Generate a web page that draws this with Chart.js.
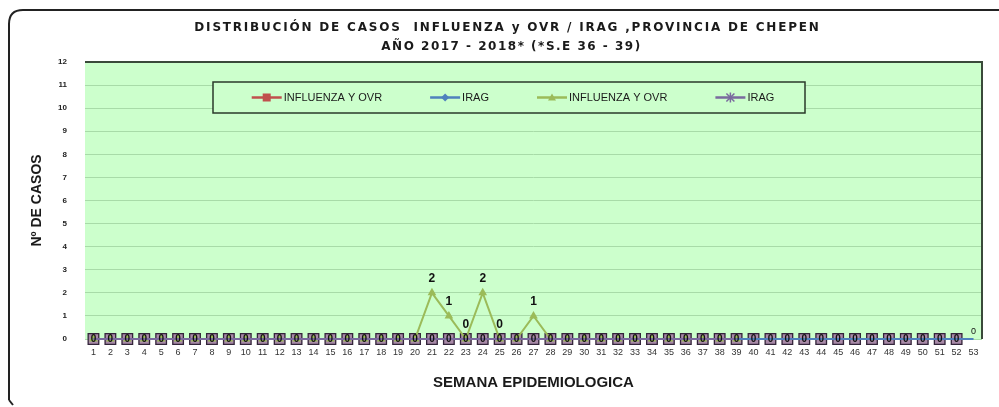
<!DOCTYPE html>
<html><head><meta charset="utf-8">
<script src="https://cdn.jsdelivr.net/npm/chart.js@4.4.0/dist/chart.umd.min.js"></script>
<style>html,body{margin:0;padding:0;background:#fff;}#wrap{width:999px;height:407px;position:relative;}</style>
</head><body><div id="wrap"><canvas id="c" width="999" height="407"></canvas></div>
<script>
const weeks = ['1','2','3','4','5','6','7','8','9','10','11','12','13','14','15','16','17','18','19','20',
  '21','22','23','24','25','26','27','28','29','30','31','32','33','34','35','36','37','38','39','40',
  '41','42','43','44','45','46','47','48','49','50','51','52','53'];
// 2017 INFLUENZA Y OVR (weeks 1-52)
const influenza2017 = [0,0,0,0,0,0,0,0,0,0,0,0,0,0,0,0,0,0,0,0,0,0,0,0,0,0,
  0,0,0,0,0,0,0,0,0,0,0,0,0,0,0,0,0,0,0,0,0,0,0,0,0,0];
// 2017 IRAG (weeks 1-53)
const irag2017 = [0,0,0,0,0,0,0,0,0,0,0,0,0,0,0,0,0,0,0,0,0,0,0,0,0,0,
  0,0,0,0,0,0,0,0,0,0,0,0,0,0,0,0,0,0,0,0,0,0,0,0,0,0,0];
// 2018* INFLUENZA Y OVR (weeks 1-39)
const influenza2018 = [0,0,0,0,0,0,0,0,0,0,0,0,0,0,0,0,0,0,0,0,
  2,1,0,2,0,0,1,0,0,0,0,0,0,0,0,0,0,0,0];
// 2018* IRAG (weeks 1-39)
const irag2018 = [0,0,0,0,0,0,0,0,0,0,0,0,0,0,0,0,0,0,0,0,
  0,0,0,0,0,0,0,0,0,0,0,0,0,0,0,0,0,0,0];
const seriesNames = ['INFLUENZA Y OVR','IRAG','INFLUENZA Y OVR','IRAG'];
const yTicks = [0,1,2,3,4,5,6,7,8,9,10,11,12];
const influenza2018LabelWeeks = ['21','22','23','24','25','27'];
const irag2017LabelWeeks = ['53'];

const titleLines = ['DISTRIBUCIÓN DE CASOS  INFLUENZA y OVR / IRAG ,PROVINCIA DE CHEPEN',
                    'AÑO 2017 - 2018* (*S.E 36 - 39)'];

const allWeekLabels = weeks.slice(0, influenza2017.length);

const framePlugin = {
  id:'frame',
  beforeDraw(chart){
    const {ctx, chartArea:a} = chart;
    ctx.save();
    ctx.fillStyle='#fff'; ctx.fillRect(0,0,chart.width,chart.height);
    ctx.strokeStyle='#222'; ctx.lineWidth=2;
    ctx.beginPath();
    ctx.moveTo(9,400); ctx.lineTo(9,24);
    ctx.quadraticCurveTo(9,10,23,10);
    ctx.lineTo(1005,10);
    ctx.stroke();
    ctx.beginPath(); ctx.moveTo(9,400); ctx.lineTo(13,405); ctx.stroke();
    ctx.fillStyle='#ccffcc';
    ctx.fillRect(a.left,a.top,a.right-a.left,a.bottom-a.top);
    // title
    ctx.fillStyle='#1a1a1a';
    ctx.font='bold 12px "DejaVu Sans", sans-serif';
    ctx.textAlign='center'; ctx.textBaseline='middle';
    ctx.letterSpacing='1.8px';
    const cx = (a.left+a.right)/2 - 26;
    ctx.fillText(titleLines[0], cx, 28);
    ctx.letterSpacing='1.5px';
    ctx.fillText(titleLines[1], cx + 4, 47);
    ctx.letterSpacing='0px';
    ctx.restore();
  },
  afterDatasetsDraw(chart){
    const {ctx, chartArea:a} = chart;
    ctx.save();
    // plot border top & right
    ctx.strokeStyle='#3a4a3a'; ctx.lineWidth=2;
    ctx.beginPath(); ctx.moveTo(a.left,a.top); ctx.lineTo(a.right,a.top); ctx.lineTo(a.right,a.bottom); ctx.stroke();
    // legend box
    const bx=213, by=82, bw=592, bh=31;
    ctx.fillStyle='#ccffcc'; ctx.fillRect(bx,by,bw,bh);
    ctx.strokeStyle='#2a3a2a'; ctx.lineWidth=1.5; ctx.strokeRect(bx,by,bw,bh);
    ctx.font='11px "Liberation Sans", Arial, sans-serif';
    ctx.textBaseline='middle'; ctx.textAlign='left';
    const lineLen=30, gap=2, spacing=48;
    const items = chart.data.datasets.map(d=>({d, w: ctx.measureText(d.label).width}));
    let total = items.reduce((s,it)=>s+lineLen+gap+it.w,0)+spacing*(items.length-1);
    let x = bx + bw/2 - total/2 + 4;
    const cy = by+bh/2;
    items.forEach(it=>{
      const d=it.d;
      ctx.strokeStyle=d.borderColor; ctx.lineWidth=2.5;
      ctx.beginPath(); ctx.moveTo(x,cy); ctx.lineTo(x+lineLen,cy); ctx.stroke();
      const mx=x+lineLen/2;
      ctx.fillStyle=d.legendMarkerColor; ctx.strokeStyle=d.legendMarkerColor; ctx.lineWidth=1.5;
      if(d.legendMarker==='rect'){ ctx.fillRect(mx-4,cy-4,8,8); }
      else if(d.legendMarker==='diamond'){ ctx.beginPath(); ctx.moveTo(mx,cy-4); ctx.lineTo(mx+4,cy); ctx.lineTo(mx,cy+4); ctx.lineTo(mx-4,cy); ctx.closePath(); ctx.fill(); }
      else if(d.legendMarker==='triangle'){ ctx.beginPath(); ctx.moveTo(mx,cy-4); ctx.lineTo(mx+4,cy+3); ctx.lineTo(mx-4,cy+3); ctx.closePath(); ctx.fill(); }
      else { ctx.beginPath(); ctx.moveTo(mx-4,cy-4); ctx.lineTo(mx+4,cy+4); ctx.moveTo(mx+4,cy-4); ctx.lineTo(mx-4,cy+4); ctx.moveTo(mx,cy-5); ctx.lineTo(mx,cy+5); ctx.stroke(); }
      ctx.fillStyle='#1a1a1a';
      ctx.fillText(d.label, x+lineLen+gap, cy+0.5);
      x += lineLen+gap+it.w+spacing;
    });
    // data labels
    chart.data.datasets.forEach((d,i)=>{
      if(!d.labelWeeks) return;
      const meta = chart.getDatasetMeta(i);
      ctx.font = d.labelFont; ctx.fillStyle='#111'; ctx.textAlign='center'; ctx.textBaseline='middle';
      d.labelWeeks.forEach(w=>{
        const j = chart.data.labels.indexOf(w);
        const pt = meta.data[j]; if(!pt) return;
        ctx.fillText(String(d.data[j]), pt.x + (d.labelDx||0), pt.y + d.labelDy);
      });
    });
    ctx.restore();
  }
};

new Chart(document.getElementById('c'), {
  type:'line',
  data:{ labels:weeks, datasets:[
    { label:seriesNames[0], data:influenza2017, borderColor:'#c0504d', borderWidth:2, clip:false,
      pointStyle:'rect', pointRadius:7.5, pointBackgroundColor:'#a98aa8', pointBorderColor:'#33243a', pointBorderWidth:1.3,
      legendMarker:'rect', legendMarkerColor:'#c0504d', order:3,
      labelWeeks: allWeekLabels, labelDy:0.5, labelFont:'bold 10px "Liberation Sans", Arial, sans-serif' },
    { label:seriesNames[1], data:irag2017, borderColor:'#4f81bd', borderWidth:2, pointRadius:0, clip:false,
      legendMarker:'diamond', legendMarkerColor:'#4f81bd', order:1,
      labelWeeks: irag2017LabelWeeks, labelDy:-7, labelFont:'9px "Liberation Sans", Arial, sans-serif' },
    { label:seriesNames[2], data:influenza2018, borderColor:'#9bbb59', borderWidth:2, clip:false,
      pointStyle:'triangle', pointRadius:3, pointBackgroundColor:'#9bbb59', pointBorderColor:'#9bbb59',
      legendMarker:'triangle', legendMarkerColor:'#9bbb59', order:2,
      labelWeeks: influenza2018LabelWeeks, labelDy:-14, labelFont:'bold 12px "Liberation Sans", Arial, sans-serif' },
    { label:seriesNames[3], data:irag2018, borderColor:'#7a6a9e', borderWidth:2, pointRadius:0, clip:false,
      legendMarker:'star', legendMarkerColor:'#7a6a9e', order:0 }
  ]},
  options:{
    responsive:false, animation:false, devicePixelRatio:1,
    layout:{ padding:{ left:9, right:17, top:62, bottom:0 } },
    plugins:{
      legend:{ display:false }, tooltip:{ enabled:false }, title:{ display:false }
    },
    scales:{
      x:{ offset:true,
        grid:{ display:false, drawTicks:false }, border:{ display:false },
        ticks:{ autoSkip:false, maxRotation:0, minRotation:0, padding:8, color:'#333',
          font:{ family:'"Liberation Sans", Arial, sans-serif', size:9 } },
        title:{ display:true, text:'SEMANA EPIDEMIOLOGICA', color:'#1a1a1a',
          font:{ family:'"Liberation Sans", Arial, sans-serif', size:15, weight:'bold' }, padding:{ top:4, bottom:15 } },
        afterFit(s){ s.height = 68; } },
      y:{ min:0, max:12,
        afterBuildTicks(s){ s.ticks = yTicks.map(v=>({value:v})); },
        grid:{ color:'#a8dba8', lineWidth:1, drawTicks:false }, border:{ display:false },
        ticks:{ padding:18, color:'#222', font:{ family:'"Liberation Sans", Arial, sans-serif', size:8, weight:'bold' } },
        title:{ display:true, text:'Nº DE CASOS', color:'#1a1a1a',
          font:{ family:'"Liberation Sans", Arial, sans-serif', size:14, weight:'bold' }, padding:{ top:20, bottom:0 } },
        afterFit(s){ s.width = 76; } }
    }
  },
  plugins:[framePlugin]
});
</script></body></html>
